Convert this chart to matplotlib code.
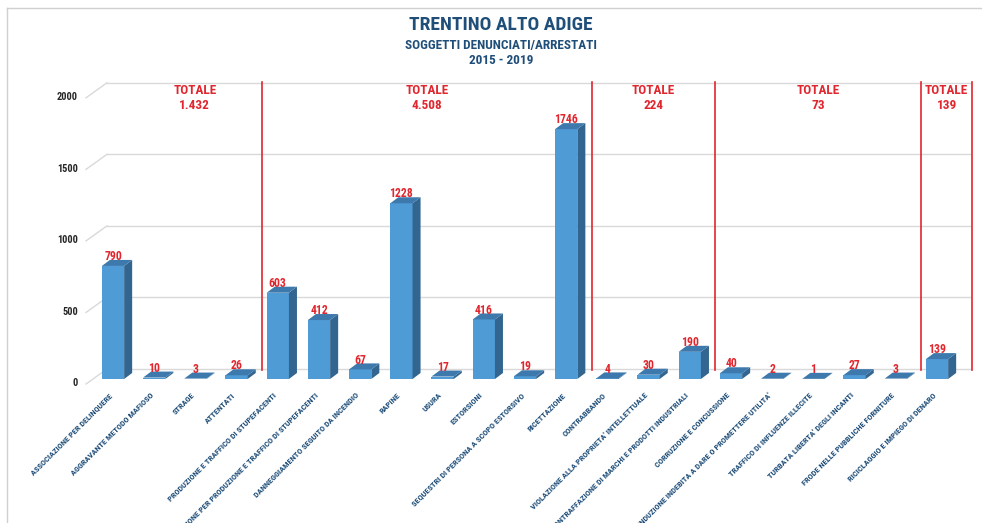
import matplotlib.pyplot as plt
from matplotlib.patches import Polygon
from matplotlib.lines import Line2D
from matplotlib import font_manager
import numpy as np

# data
categories = [
    "ASSOCIAZIONE PER DELINQUERE",
    "AGGRAVANTE METODO MAFIOSO",
    "STRAGE",
    "ATTENTATI",
    "PRODUZIONE E TRAFFICO DI STUPEFACENTI",
    "ASSOCIAZIONE PER PRODUZIONE E TRAFFICO DI STUPEFACENTI",
    "DANNEGGIAMENTO SEGUITO DA INCENDIO",
    "RAPINE",
    "USURA",
    "ESTORSIONI",
    "SEQUESTRI DI PERSONA A SCOPO ESTORSIVO",
    "RICETTAZIONE",
    "CONTRABBANDO",
    "VIOLAZIONE ALLA PROPRIETA' INTELLETTUALE",
    "CONTRAFFAZIONE DI MARCHI E PRODOTTI INDUSTRIALI",
    "CORRUZIONE E CONCUSSIONE",
    "INDUZIONE INDEBITA A DARE O PROMETTERE UTILITA'",
    "TRAFFICO DI INFLUENZE ILLECITE",
    "TURBATA LIBERTA' DEGLI INCANTI",
    "FRODE NELLE PUBBLICHE FORNITURE",
    "RICICLAGGIO E IMPIEGO DI DENARO",
]
values = [790, 10, 3, 26, 603, 412, 67, 1228, 17, 416, 19, 1746,
          4, 30, 190, 40, 2, 1, 27, 3, 139]
group_sizes = [4, 8, 3, 5, 1]
group_totals = ["1.432", "4.508", "224", "73", "139"]
yticks = [0, 500, 1000, 1500, 2000]

# colours / fonts
FRONT = '#4F9BD5'
SIDE = '#32658F'
TOP = '#3D79AC'
RED = '#E0262E'
NAVY = '#1F4E79'
GRID = '#D9D9D9'

installed = {f.name for f in font_manager.fontManager.ttflist}
NARROW = [f for f in ['Roboto Condensed', 'DejaVu Sans Condensed', 'Liberation Sans Narrow',
                      'Roboto'] if f in installed] + ['DejaVu Sans']

# pixel geometry of the original: bar centres every 41.2 px from x=113, y=0 at 379 px
W, H = 982, 523
px_per_cat = 41.2
px_per_val = 0.1431
x0_px, y0_px = 113, 379

fig = plt.figure(figsize=(W / 100, H / 100), dpi=100)
ax = fig.add_axes([0, 0, 1, 1])
ax.set_xlim((0 - x0_px) / px_per_cat, (W - x0_px) / px_per_cat)
ax.set_ylim((y0_px - H) / px_per_val, y0_px / px_per_val)
ax.axis('off')

bw = 0.54        # front face width
ddx = 0.195      # depth offset of the bars
ddy = 42
back_dy = 70     # back wall offset for gridlines
back_x0 = -0.146
back_x1 = 20.80

x = np.arange(len(values))

# gridlines on the back wall + diagonal of the left wall
for t in yticks:
    ax.plot([back_x0, back_x1], [t + back_dy, t + back_dy], color=GRID, lw=1, zorder=1)
    ax.plot([-0.655, back_x0], [t - 35, t + back_dy], color=GRID, lw=1, zorder=1)
    ax.text(-0.85, t - 30, str(t), ha='right', va='center', fontsize=7.5,
            fontweight='bold', color='#262626', family=NARROW)

# group separators and totals
bounds = np.cumsum(group_sizes) - 0.5 + 0.12
bounds[-1] += 0.23
left = 0.35
for b, tot in zip(bounds, group_totals):
    ax.plot([b, b], [63, 2075], color=RED, lw=1.2, zorder=2)
    ax.text((left + b) / 2, 1965, "TOTALE\n" + tot, ha='center', va='center',
            fontsize=9.5, fontweight='bold', color=RED, family=NARROW, linespacing=1.2)
    left = b

# 3d-looking bars
ax.bar(x, values, width=bw, color=FRONT, zorder=3)
for i, v in zip(x, values):
    r = i + bw / 2
    l = i - bw / 2
    ax.add_patch(Polygon([(r, 0), (r + ddx, ddy), (r + ddx, v + ddy), (r, v)],
                         closed=True, facecolor=SIDE, edgecolor='none', zorder=3))
    ax.add_patch(Polygon([(l, v), (r, v), (r + ddx, v + ddy), (l + ddx, v + ddy)],
                         closed=True, facecolor=TOP, edgecolor='none', zorder=3))
    ax.text(i, v + 20, str(v), ha='center', va='bottom', fontsize=8.5,
            fontweight='bold', color=RED, family=NARROW, zorder=4)

# category labels
for i, name in zip(x, categories):
    ax.text(i - 0.05, -105, name, rotation=45, rotation_mode='anchor',
            ha='right', va='center', fontsize=6.0, fontweight='bold',
            color=NAVY, family=NARROW)

# titles
fig.text(501 / W, 1 - 25 / H, "TRENTINO ALTO ADIGE", ha='center', va='center',
         fontsize=14, fontweight='bold', color=NAVY, family=NARROW)
fig.text(501 / W, 1 - 45 / H, "SOGGETTI DENUNCIATI/ARRESTATI", ha='center', va='center',
         fontsize=9.5, fontweight='bold', color=NAVY, family=NARROW)
fig.text(501 / W, 1 - 61 / H, "2015 - 2019", ha='center', va='center',
         fontsize=9.5, fontweight='bold', color=NAVY, family=NARROW)

# light frame at top / left
fig.add_artist(Line2D([7 / W, 1], [1 - 8 / H, 1 - 8 / H], color='#D0D0D0', lw=1))
fig.add_artist(Line2D([7 / W, 7 / W], [0, 1 - 8 / H], color='#D0D0D0', lw=1))

fig.savefig('out.png', dpi=100)
